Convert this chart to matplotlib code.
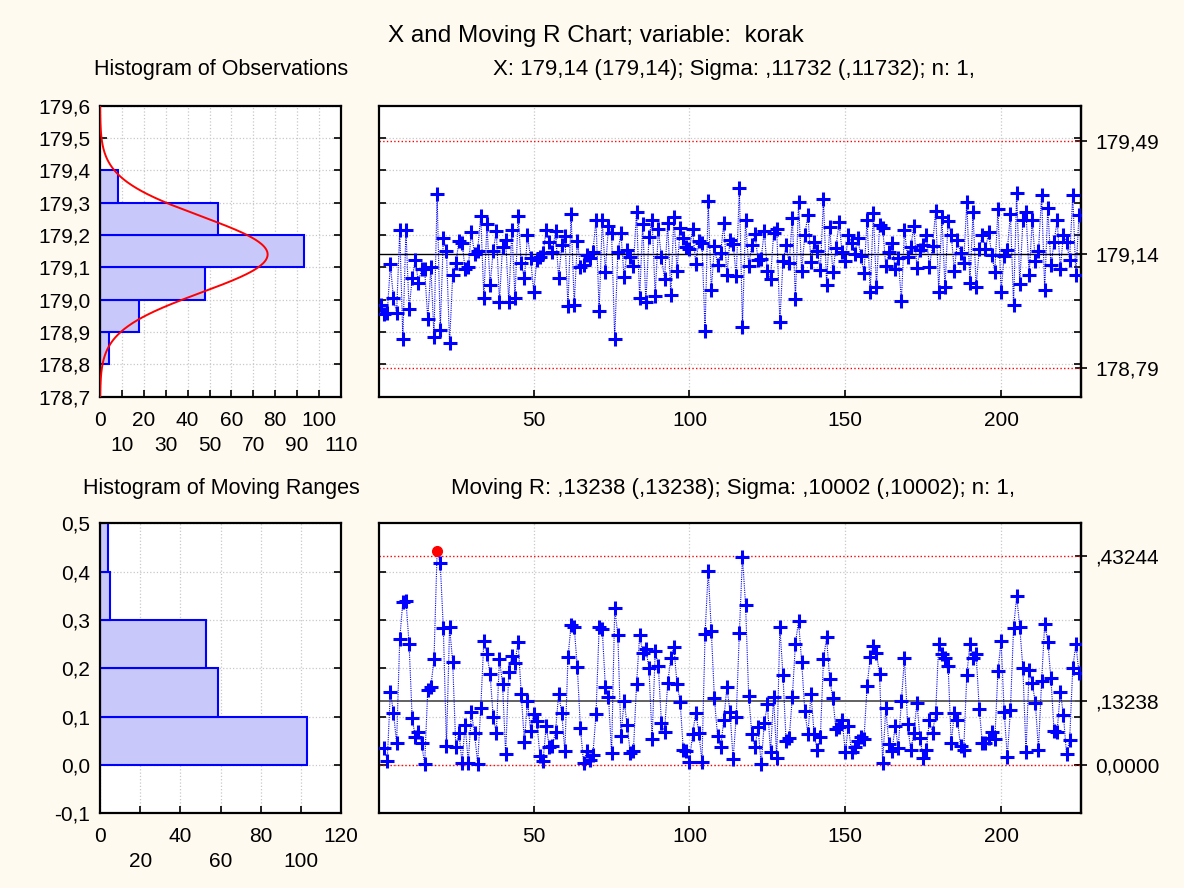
import matplotlib
matplotlib.use("Agg")
import matplotlib.pyplot as plt
import numpy as np

plt.rcParams['font.family'] = ['Liberation Sans', 'DejaVu Sans']

# ---------------- data ----------------
x_values = [
    178.984, 178.956, 178.960, 179.109, 179.004, 178.958, 179.215, 178.880, 179.215, 178.970,
    179.066, 179.123, 179.053, 179.094, 179.094, 178.939, 179.102, 178.886, 179.326, 178.906,
    179.190, 179.151, 178.865, 179.076, 179.112, 179.181, 179.176, 179.094, 179.100, 179.210,
    179.141, 179.151, 179.260, 179.006, 179.234, 179.045, 179.151, 179.212, 178.994, 179.164,
    179.185, 178.994, 179.215, 179.006, 179.259, 179.112, 179.066, 179.200, 179.128, 179.025,
    179.123, 179.133, 179.143, 179.215, 179.179, 179.148, 179.212, 179.066, 179.169, 179.197,
    178.979, 179.265, 178.984, 179.182, 179.102, 179.107, 179.138, 179.128, 179.148, 179.246,
    178.964, 179.246, 179.087, 179.228, 179.205, 178.880, 179.147, 179.205, 179.071, 179.155,
    179.131, 179.104, 179.272, 179.004, 179.234, 178.994, 179.195, 179.247, 179.011, 179.218,
    179.131, 179.064, 179.236, 179.015, 179.257, 179.090, 179.221, 179.190, 179.162, 179.156,
    179.219, 179.111, 179.181, 179.176, 178.902, 179.305, 179.029, 179.166, 179.107, 179.143,
    179.236, 179.076, 179.186, 179.173, 179.072, 179.344, 178.917, 179.246, 179.104, 179.168,
    179.204, 179.124, 179.127, 179.213, 179.089, 179.064, 179.205, 179.219, 178.931, 179.119,
    179.168, 179.112, 179.253, 179.002, 179.302, 179.088, 179.199, 179.263, 179.116, 179.179,
    179.150, 179.093, 179.310, 179.047, 179.224, 179.086, 179.160, 179.239, 179.146, 179.121,
    179.201, 179.176, 179.141, 179.190, 179.134, 179.082, 179.246, 179.023, 179.269, 179.040,
    179.230, 179.222, 179.104, 179.148, 179.175, 179.095, 179.129, 178.997, 179.215, 179.133,
    179.163, 179.229, 179.099, 179.155, 179.168, 179.199, 179.102, 179.166, 179.275, 179.025,
    179.257, 179.039, 179.244, 179.201, 179.090, 179.184, 179.145, 179.115, 179.301, 179.052,
    179.270, 179.040, 179.157, 179.200, 179.156, 179.208, 179.139, 179.087, 179.280, 179.025,
    179.135, 179.153, 179.265, 178.983, 179.331, 179.048, 179.246, 179.272, 179.075, 179.245,
    179.119, 179.151, 179.323, 179.031, 179.285, 179.106, 179.178, 179.246, 179.096, 179.199,
    179.178, 179.124, 179.324, 179.075, 179.262,
]

moving_ranges = [
    0.035, 0.009, 0.152, 0.108, 0.045, 0.260, 0.338, 0.340, 0.251,
    0.097, 0.057, 0.069, 0.045, 0.002, 0.155, 0.162, 0.219, 0.442, 0.418,
    0.283, 0.039, 0.286, 0.213, 0.037, 0.067, 0.005, 0.083, 0.005, 0.109,
    0.067, 0.003, 0.117, 0.257, 0.229, 0.188, 0.100, 0.066, 0.219, 0.168,
    0.022, 0.193, 0.226, 0.212, 0.255, 0.147, 0.048, 0.133, 0.071, 0.106,
    0.090, 0.019, 0.009, 0.081, 0.037, 0.039, 0.069, 0.147, 0.107, 0.028,
    0.223, 0.290, 0.285, 0.202, 0.076, 0.005, 0.028, 0.010, 0.021, 0.106,
    0.285, 0.281, 0.161, 0.141, 0.024, 0.324, 0.269, 0.060, 0.133, 0.083,
    0.024, 0.028, 0.167, 0.269, 0.231, 0.239, 0.200, 0.053, 0.235, 0.205,
    0.086, 0.069, 0.169, 0.221, 0.244, 0.167, 0.131, 0.032, 0.028, 0.007,
    0.064, 0.108, 0.067, 0.007, 0.271, 0.402, 0.278, 0.138, 0.060, 0.037,
    0.093, 0.161, 0.110, 0.012, 0.100, 0.273, 0.430, 0.331, 0.143, 0.064,
    0.037, 0.078, 0.002, 0.086, 0.126, 0.026, 0.140, 0.014, 0.286, 0.186,
    0.050, 0.055, 0.140, 0.251, 0.298, 0.214, 0.112, 0.064, 0.147, 0.064,
    0.030, 0.057, 0.219, 0.264, 0.177, 0.138, 0.074, 0.078, 0.093, 0.026,
    0.081, 0.026, 0.037, 0.050, 0.057, 0.053, 0.164, 0.223, 0.246, 0.231,
    0.188, 0.005, 0.117, 0.043, 0.028, 0.081, 0.035, 0.133, 0.221, 0.085,
    0.030, 0.067, 0.129, 0.055, 0.014, 0.031, 0.093, 0.066, 0.108, 0.251,
    0.230, 0.221, 0.205, 0.045, 0.108, 0.093, 0.039, 0.030, 0.186, 0.251,
    0.221, 0.230, 0.115, 0.045, 0.046, 0.055, 0.069, 0.053, 0.195, 0.257,
    0.110, 0.016, 0.114, 0.283, 0.349, 0.285, 0.200, 0.026, 0.197, 0.170,
    0.128, 0.032, 0.173, 0.292, 0.255, 0.179, 0.071, 0.069, 0.152, 0.104,
    0.023, 0.052, 0.200, 0.251, 0.190,
]

obs_bin_starts = [178.8, 178.9, 179.0, 179.1, 179.2, 179.3]
obs_counts = [4, 18, 48, 93, 54, 8]
mr_bin_starts = [0.0, 0.1, 0.2, 0.3, 0.4]
mr_counts = [103, 59, 53, 5, 4]

x_center, x_sigma, x_ucl, x_lcl = 179.14, 0.11732, 179.492, 178.788
x_limit_labels = ["178,79", "179,14", "179,49"]
mr_center, mr_ucl, mr_lcl = 0.13238, 0.43244, 0.0
mr_limit_labels = ["0,0000", ",13238", ",43244"]

obs_yticks = [178.7, 178.8, 178.9, 179.0, 179.1, 179.2, 179.3, 179.4, 179.5, 179.6]
obs_ytick_labels = ["178,7", "178,8", "178,9", "179,0", "179,1", "179,2", "179,3", "179,4", "179,5", "179,6"]
mr_yticks = [-0.1, 0.0, 0.1, 0.2, 0.3, 0.4, 0.5]
mr_ytick_labels = ["-0,1", "0,0", "0,1", "0,2", "0,3", "0,4", "0,5"]
main_xticks = [50, 100, 150, 200]

# ---------------- style ----------------
BG = '#fffaf0'
BLUE = '#0000ff'
BARFACE = '#c8c8fa'
GRID = dict(color='#c8c8c8', linestyle=':', linewidth=0.9)
TICK_FS = 15
W, H = 1184, 888

fig = plt.figure(figsize=(W / 100, H / 100), dpi=100, facecolor=BG)

def fpos(x0, x1, y0, y1):
    return [x0 / W, 1 - y1 / H, (x1 - x0) / W, (y1 - y0) / H]

ax_h1 = fig.add_axes(fpos(100, 341, 105.7, 396.7))
ax_x = fig.add_axes(fpos(379, 1081, 105.7, 396.7))
ax_h2 = fig.add_axes(fpos(100, 341, 523.3, 813.3))
ax_r = fig.add_axes(fpos(379, 1081, 523.3, 813.3))

for a in (ax_h1, ax_x, ax_h2, ax_r):
    a.set_facecolor('white')
    for s in a.spines.values():
        s.set_linewidth(1.6)
        s.set_color('black')
    a.set_axisbelow(True)

# ---------- histogram of observations ----------
ax_h1.barh(obs_bin_starts, obs_counts, height=0.1, align='edge',
           color=BARFACE, edgecolor=BLUE, linewidth=1.5, zorder=2)
yy = np.linspace(178.7, 179.6, 400)
n_obs = len(x_values)
pdf = n_obs * 0.1 / (x_sigma * np.sqrt(2 * np.pi)) * np.exp(-0.5 * ((yy - x_center) / x_sigma) ** 2)
ax_h1.plot(pdf, yy, color='red', lw=1.4, zorder=3)
ax_h1.set_xlim(0, 110)
ax_h1.set_ylim(178.7, 179.6)
ax_h1.set_yticks(obs_yticks)
ax_h1.set_yticklabels(obs_ytick_labels)
ax_h1.set_xticks([0, 20, 40, 60, 80, 100])
ax_h1.set_xticklabels(["0", "20", "40", "60", "80", "100"])
ax_h1.set_xticks([10, 30, 50, 70, 90, 110], minor=True)
ax_h1.set_xticklabels(["10", "30", "50", "70", "90", "110"], minor=True)
ax_h1.grid(True, which='both', **GRID)

# ---------- X chart ----------
idx = np.arange(1, n_obs + 1)
ax_x.axhline(x_ucl, color='red', ls=':', lw=1.0, zorder=2)
ax_x.axhline(x_lcl, color='red', ls=':', lw=1.0, zorder=2)
ax_x.axhline(x_center, color='black', lw=1.0, zorder=2)
ax_x.plot(idx, x_values, color=BLUE, ls=(0, (1, 1)), lw=0.8, marker='+',
          ms=10, mew=2.2, zorder=3)
ax_x.set_xlim(0.35, 225.65)
ax_x.set_ylim(178.7, 179.6)
ax_x.set_yticks(obs_yticks[1:-1])
ax_x.set_yticklabels([])
ax_x.set_xticks(main_xticks)
ax_x.grid(True, **GRID)
sec1 = ax_x.secondary_yaxis('right')
sec1.set_yticks([x_lcl, x_center, x_ucl])
sec1.set_yticklabels(x_limit_labels)
sec1.tick_params(direction='inout', length=9, width=1.2, labelsize=TICK_FS, pad=6)
sec1.spines['right'].set_linewidth(1.6)

# ---------- histogram of moving ranges ----------
ax_h2.barh(mr_bin_starts, mr_counts, height=0.1, align='edge',
           color=BARFACE, edgecolor=BLUE, linewidth=1.5, zorder=2)
ax_h2.set_xlim(0, 120)
ax_h2.set_ylim(-0.1, 0.5)
ax_h2.set_yticks(mr_yticks)
ax_h2.set_yticklabels(mr_ytick_labels)
ax_h2.set_xticks([0, 40, 80, 120])
ax_h2.set_xticklabels(["0", "40", "80", "120"])
ax_h2.set_xticks([20, 60, 100], minor=True)
ax_h2.set_xticklabels(["20", "60", "100"], minor=True)
ax_h2.grid(True, which='both', **GRID)

# ---------- moving range chart ----------
ridx = np.arange(2, n_obs + 1)
mr = np.array(moving_ranges)
ax_r.axhline(mr_ucl, color='red', ls=':', lw=1.0, zorder=2)
ax_r.axhline(mr_lcl, color='red', ls=':', lw=1.0, zorder=2)
ax_r.axhline(mr_center, color='#555555', lw=1.3, zorder=2)
ax_r.plot(ridx, mr, color=BLUE, ls=(0, (1, 1)), lw=0.8, zorder=3)
ok = mr <= mr_ucl
ax_r.plot(ridx[ok], mr[ok], ls='none', marker='+', color=BLUE, ms=10, mew=2.2, zorder=4)
ax_r.plot(ridx[~ok], mr[~ok], ls='none', marker='o', color='red', ms=7, zorder=4)
ax_r.set_xlim(0.35, 225.65)
ax_r.set_ylim(-0.1, 0.5)
ax_r.set_yticks([0.0, 0.1, 0.2, 0.3, 0.4])
ax_r.set_yticklabels([])
ax_r.set_xticks(main_xticks)
ax_r.grid(True, **GRID)
sec2 = ax_r.secondary_yaxis('right')
sec2.set_yticks([mr_lcl, mr_center, mr_ucl])
sec2.set_yticklabels(mr_limit_labels)
sec2.tick_params(direction='inout', length=9, width=1.2, labelsize=TICK_FS, pad=6)
sec2.spines['right'].set_linewidth(1.6)

# ---------- ticks ----------
for a in (ax_h1, ax_h2):
    a.tick_params(which='both', direction='in', length=5, width=1.2, right=True,
                  labelsize=TICK_FS)
    a.tick_params(axis='y', pad=7)
    a.tick_params(axis='x', which='major', pad=10)
    a.tick_params(axis='x', which='minor', pad=28)
for a in (ax_x, ax_r):
    a.tick_params(direction='in', length=5, width=1.2, right=True, labelsize=TICK_FS)
    a.tick_params(axis='x', pad=10)

# ---------- texts ----------
fig.text(596 / W, 1 - 36 / H, "X and Moving R Chart; variable:  korak",
         ha='center', va='center', fontsize=17.5)
fig.text(221 / W, 1 - 70 / H, "Histogram of Observations",
         ha='center', va='center', fontsize=15.5)
fig.text(734 / W, 1 - 70 / H, "X: 179,14 (179,14); Sigma: ,11732 (,11732); n: 1,",
         ha='center', va='center', fontsize=16)
fig.text(221 / W, 1 - 488 / H, "Histogram of Moving Ranges",
         ha='center', va='center', fontsize=15.5)
fig.text(733 / W, 1 - 488 / H, "Moving R: ,13238 (,13238); Sigma: ,10002 (,10002); n: 1,",
         ha='center', va='center', fontsize=16)

fig.savefig("out.png", dpi=100, facecolor=BG)
